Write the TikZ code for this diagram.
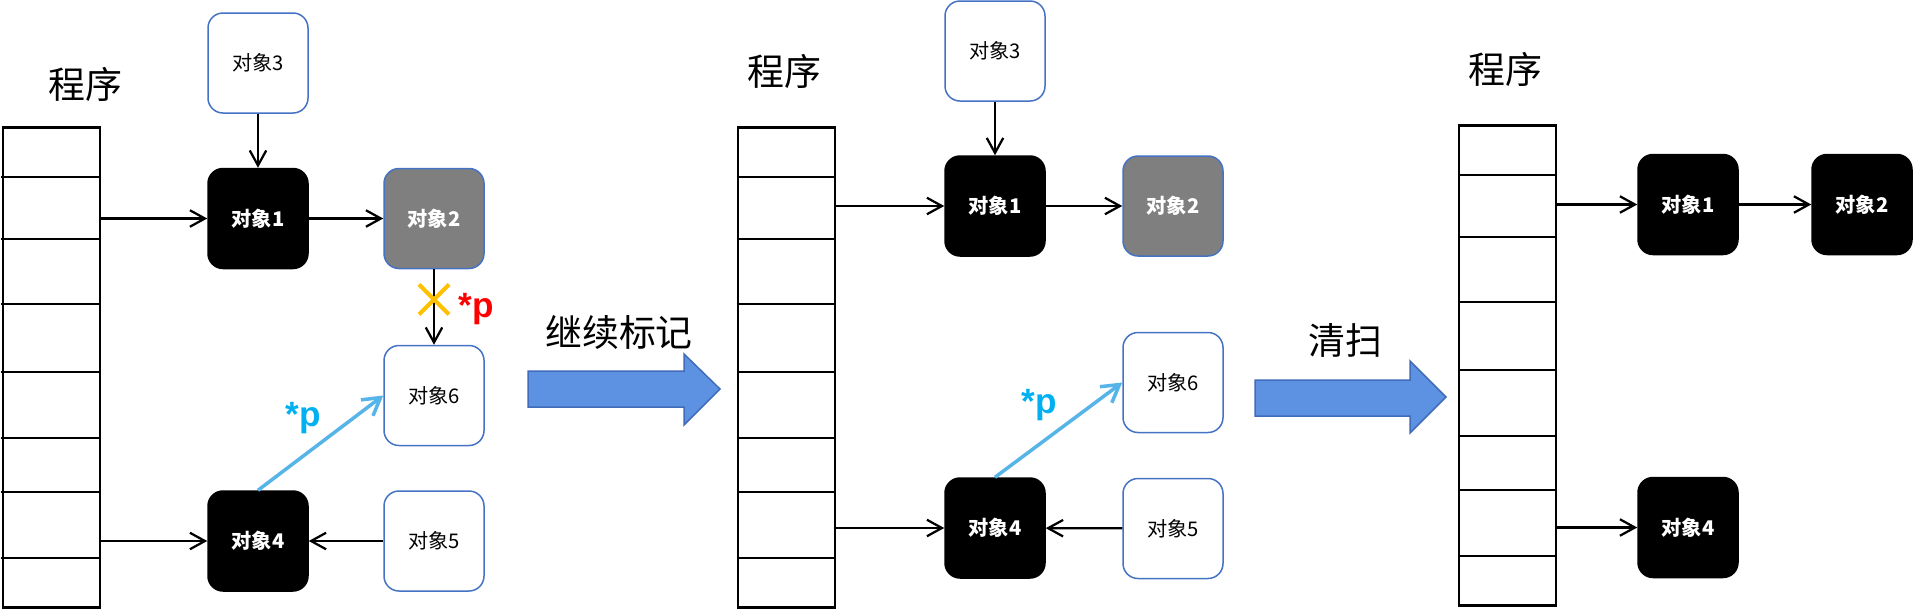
\documentclass[tikz,border=0pt]{standalone}
\usepackage{fontspec}
\newfontfamily\cjk{Noto Sans CJK SC}
\newfontfamily\pfont{Liberation Sans}
\usetikzlibrary{arrows.meta}
\definecolor{boxblue}{RGB}{68,114,196}
\definecolor{ptrblue}{RGB}{86,180,233}
\definecolor{ptrtext}{RGB}{0,176,240}
\definecolor{cutyellow}{RGB}{255,192,0}
\definecolor{bigblue}{RGB}{93,145,225}
\definecolor{bigedge}{RGB}{65,108,186}
\definecolor{objgray}{RGB}{127,127,127}

\begin{document}
\begin{tikzpicture}[x=0.2mm, y=-0.2mm,
  obj/.style={rounded corners=3mm, minimum width=20mm, minimum height=20mm,
    inner sep=0pt, line width=0.3mm, font=\cjk\fontsize{11.5}{12}\selectfont},
  objw/.style={obj, draw=boxblue, fill=white},
  objk/.style={obj, draw=black, fill=black, text=white,
    font=\cjk\bfseries\fontsize{11.5}{12}\selectfont},
  objg/.style={obj, draw=boxblue, fill=objgray, text=white,
    font=\cjk\bfseries\fontsize{11.5}{12}\selectfont},
  ref/.style={line width=0.45mm, -{Straight Barb[length=3mm, width=3.3mm]}},
  ptr/.style={ptrblue, line width=0.7mm, -{Straight Barb[length=3.4mm, width=4mm]}},
  title/.style={inner sep=0pt, font=\cjk\fontsize{21}{24}\selectfont},
  ptext/.style={inner sep=0pt, font=\pfont\bfseries\fontsize{20}{22}\selectfont},
  stackline/.style={line width=0.5mm},
  bigarrow/.style={fill=bigblue, draw=bigedge, line width=0.3mm}]
  \useasboundingbox (0,0) rectangle (1913,608);

  % program stacks
  \foreach \sx/\sy/\p in {1.5/0/A, 736.5/0/B, 1457.5/-2/C} {
    \node[stackline, draw, anchor=north west, minimum width=19.4mm,
      minimum height=96mm, inner sep=0pt] (stack\p) at (\sx, 126+\sy) {};
    \foreach \y in {177, 239, 304, 372, 438, 492, 558}
      \draw[stackline] (\sx, \y+\sy) -- ++(97, 0);
  }

  \node[title] (progA) at (85, 84) {程序};
  \node[title] (progB) at (784, 71) {程序};
  \node[title] (progC) at (1505, 69) {程序};

  % before marking
  \node[objw] (o3A) at (258, 63) {对象3};
  \node[objk] (o1A) at (258, 218.5) {对象1};
  \node[objg] (o2A) at (434, 218.5) {对象2};
  \node[objw] (o6A) at (434, 395.5) {对象6};
  \node[objk] (o4A) at (258, 541) {对象4};
  \node[objw] (o5A) at (434, 541) {对象5};

  \draw[ref] (stackA.east |- o1A) -- (o1A);
  \draw[ref] (o3A) -- (o1A);
  \draw[ref] (o1A) -- (o2A);
  \draw[ref] (o2A) -- (o6A);
  \draw[ref] (stackA.east |- o4A) -- (o4A);
  \draw[ref] (o5A) -- (o4A);
  \draw[ptr] (o4A.north) -- (o6A.west);

  % cut pointer
  \path (o2A.south) -- (o6A.north) coordinate[pos=0.4] (cut);
  \draw[cutyellow, line width=0.8mm] (cut) +(-15, -15) -- +(15, 15)
    (cut) +(-15, 15) -- +(15, -15);
  \node[ptext, red] (pRed) at (476, 309) {*p};
  \node[ptext, ptrtext] (pA) at (303, 418) {*p};

  % continue marking
  \draw[bigarrow] (528, 371) -- (684, 371) -- (684, 354) -- (720, 389)
    -- (684, 425) -- (684, 407) -- (528, 407) -- cycle;
  \node[title] (mark) at (619, 332) {继续标记};

  \node[objw] (o3B) at (995, 51) {对象3};
  \node[objk] (o1B) at (995, 206) {对象1};
  \node[objg] (o2B) at (1173, 206) {对象2};
  \node[objw] (o6B) at (1173, 382.5) {对象6};
  \node[objk] (o4B) at (995, 528) {对象4};
  \node[objw] (o5B) at (1173, 528.5) {对象5};

  \draw[ref] (stackB.east |- o1B) -- (o1B);
  \draw[ref] (o3B) -- (o1B);
  \draw[ref] (o1B) -- (o2B);
  \draw[ref] (stackB.east |- o4B) -- (o4B);
  \draw[ref] (o5B) -- (o4B);
  \draw[ptr] (o4B.north) -- (o6B.west);
  \node[ptext, ptrtext] (pB) at (1039, 405) {*p};

  % sweep
  \draw[bigarrow] (1255, 380) -- (1410, 380) -- (1410, 361) -- (1446, 397)
    -- (1410, 433) -- (1410, 416) -- (1255, 416) -- cycle;
  \node[title] (sweep) at (1345, 340) {清扫};

  \node[objk] (o1C) at (1688, 204.5) {对象1};
  \node[objk] (o2C) at (1862, 204.5) {对象2};
  \node[objk] (o4C) at (1688, 527.5) {对象4};

  \draw[ref] (stackC.east |- o1C) -- (o1C);
  \draw[ref] (o1C) -- (o2C);
  \draw[ref] (stackC.east |- o4C) -- (o4C);
\end{tikzpicture}
\end{document}
